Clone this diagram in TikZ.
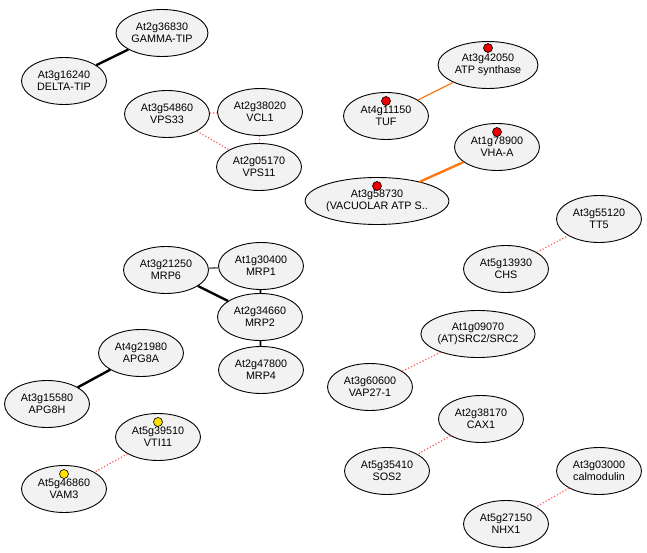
\documentclass[tikz,border=0pt]{standalone}
\usepackage{fontspec}
\setmainfont{Liberation Sans}
\usepackage{tikz}
\usetikzlibrary{shapes,arrows,backgrounds}
\definecolor{nodefill}{RGB}{242,242,242}
\definecolor{predicted}{RGB}{255,90,90}
\definecolor{coexp}{RGB}{255,120,20}
\definecolor{weakgray}{RGB}{110,110,110}
\definecolor{markred}{RGB}{235,0,0}
\definecolor{markyellow}{RGB}{255,225,0}
\tikzset{
  gene/.style={ellipse, draw, line width=0.9pt, fill=nodefill, inner sep=0pt,
    minimum width=85pt, minimum height=47pt, align=center,
    font=\fontsize{10.8}{12.4}\selectfont},
  strong/.style={line width=2.4pt},
  medium/.style={line width=1.6pt},
  weak/.style={line width=1.6pt, weakgray},
  predict/.style={line width=1.2pt, predicted, dash pattern=on 1.2pt off 2pt},
  orangethin/.style={line width=1.2pt, coexp},
  orangethick/.style={line width=2.4pt, coexp},
  reddot/.style={circle, draw, line width=0.6pt, fill=markred, inner sep=0pt, minimum size=9pt},
  yellowdot/.style={circle, draw, line width=0.6pt, fill=markyellow, inner sep=0pt, minimum size=9pt}
}
\begin{document}
\begin{tikzpicture}[x=1pt,y=-1pt]
\useasboundingbox (0,0) rectangle (647,553);
    \node (gamma) [gene, minimum width=92pt] at (162,33) {At2g36830\\GAMMA-TIP};
    \node (delta) [gene] at (64,81) {At3g16240\\DELTA-TIP};
    \node (vps33) [gene] at (167,114) {At3g54860\\VPS33};
    \node (vcl1) [gene] at (260,112) {At2g38020\\VCL1};
    \node (vps11) [gene] at (259,167) {At2g05170\\VPS11};
    \node (atps) [gene, minimum width=100pt] at (488,65) {At3g42050\\ATP synthase};
    \node (tuf) [gene] at (386,116) {At4g11150\\TUF};
    \node (vha) [gene] at (497,147) {At1g78900\\VHA-A};
    \node (vatp) [gene, minimum width=132pt] at (377,201) {At3g58730\\(VACUOLAR ATP S..};
    \node (tt5) [gene] at (599,219) {At3g55120\\TT5};
    \node (chs) [gene] at (506,269) {At5g13930\\CHS};
    \node (mrp6) [gene] at (166,270) {At3g21250\\MRP6};
    \node (mrp1) [gene] at (261,266) {At1g30400\\MRP1};
    \node (mrp2) [gene] at (260,317) {At2g34660\\MRP2};
    \node (mrp4) [gene] at (261,370) {At2g47800\\MRP4};
    \node (apg8a) [gene] at (141,353) {At4g21980\\APG8A};
    \node (apg8h) [gene] at (47,404) {At3g15580\\APG8H};
    \node (vti11) [gene] at (158,437) {At5g39510\\VTI11};
    \node (vam3) [gene] at (64,489) {At5g46860\\VAM3};
    \node (src2) [gene, minimum width=112pt] at (478,334) {At1g09070\\(AT)SRC2/SRC2};
    \node (vap27) [gene] at (370,387) {At3g60600\\VAP27-1};
    \node (cax1) [gene] at (481,419) {At2g38170\\CAX1};
    \node (sos2) [gene] at (387,471) {At5g35410\\SOS2};
    \node (calm) [gene] at (599,471) {At3g03000\\calmodulin};
    \node (nhx1) [gene] at (506,524) {At5g27150\\NHX1};
    \node (atpsdot) [reddot] at ([yshift=17pt]atps.center) {};
    \node (tufdot) [reddot] at ([yshift=15pt]tuf.center) {};
    \node (vhadot) [reddot] at ([yshift=15pt]vha.center) {};
    \node (vatpdot) [reddot] at ([yshift=15pt]vatp.center) {};
    \node (vti11dot) [yellowdot] at ([yshift=15pt]vti11.center) {};
    \node (vam3dot) [yellowdot] at ([yshift=15pt]vam3.center) {};
    \draw[strong] (gamma) -- (delta);
    \draw[predict] (vps33) -- (vcl1);
    \draw[predict] (vps33) -- (vps11);
    \draw[predict] (vcl1) -- (vps11);
    \draw[orangethin] (tuf) -- (atps);
    \draw[orangethick] (vatp) -- (vha);
    \draw[predict] (chs) -- (tt5);
    \draw[weak] (mrp6) -- (mrp1);
    \draw[strong] (mrp6) -- (mrp2);
    \draw[medium] (mrp1) -- (mrp2);
    \draw[medium] (mrp2) -- (mrp4);
    \draw[strong] (apg8a) -- (apg8h);
    \draw[predict] (vti11) -- (vam3);
    \draw[predict] (src2) -- (vap27);
    \draw[predict] (cax1) -- (sos2);
    \draw[predict] (calm) -- (nhx1);
\end{tikzpicture}
\end{document}
